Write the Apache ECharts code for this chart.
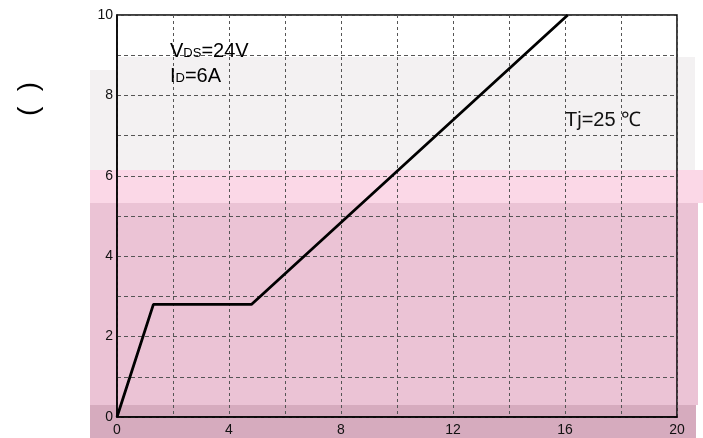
<!DOCTYPE html>
<html>
<head>
<meta charset="utf-8">
<script src="https://cdn.jsdelivr.net/npm/echarts@6/dist/echarts.min.js"></script>
<style>html,body{margin:0;padding:0;background:#fff;}#c{width:703px;height:438px;}</style>
</head>
<body>
<div id="c"></div>
<script>
// Gate charge curve: Qg (nC) vs VGS (V)
const qg = [0, 1.3, 4.8, 16.1];
const vgs = [0, 2.8, 2.8, 10];
const xTicks = [0, 4, 8, 12, 16, 20];
const yTicks = [0, 2, 4, 6, 8, 10];

const chart = echarts.init(document.getElementById('c'));
const FONT = '"Liberation Sans", Arial, sans-serif';
const rich = {
  b: { fontSize: 20, fontFamily: FONT, color: '#111' },
  s: { fontSize: 13, fontFamily: FONT, color: '#111', padding: [5, 0, 0, 0] }
};
chart.setOption({
  backgroundColor: 'transparent',
  animation: false,
  graphic: [
    { type: 'rect', z: -10, silent: true, shape: { x: 90, y: 70, width: 27, height: 100 }, style: { fill: '#f3f1f2' } },
    { type: 'rect', z: -10, silent: true, shape: { x: 117, y: 57, width: 578, height: 113 }, style: { fill: '#f3f1f2' } },
    { type: 'rect', z: -10, silent: true, shape: { x: 90, y: 170, width: 613, height: 33 }, style: { fill: '#fbd8e7' } },
    { type: 'rect', z: -10, silent: true, shape: { x: 90, y: 203, width: 608, height: 202 }, style: { fill: '#ebc3d5' } },
    { type: 'rect', z: -10, silent: true, shape: { x: 90, y: 405, width: 606, height: 33 }, style: { fill: '#d6abbe' } },
    { type: 'text', x: 29, y: 99, rotation: Math.PI / 2, style: { text: '(  )', font: '28px ' + FONT, fill: '#000', align: 'center', verticalAlign: 'middle' } },
    { type: 'text', left: 170, top: 41, z: 10, style: { text: '{b|V}{s|DS}{b|=24V}', rich: rich } },
    { type: 'text', left: 170, top: 66, z: 10, style: { text: '{b|I}{s|D}{b|=6A}', rich: rich } },
    { type: 'text', left: 565, top: 110, z: 10, style: { text: 'Tj=25 ℃', font: '20px ' + FONT, fill: '#111' } }
  ],
  grid: { left: 117, right: 26, top: 15, bottom: 21, show: true, borderColor: '#000', borderWidth: 1.5, backgroundColor: 'transparent' },
  xAxis: {
    type: 'value', min: 0, max: 20, interval: 4,
    axisLine: { show: true, lineStyle: { color: '#000', width: 1.5 } },
    axisTick: { show: false },
    axisLabel: { color: '#111', fontSize: 14, fontFamily: FONT, margin: 6, formatter: v => xTicks.includes(v) ? String(v) : '' },
    splitLine: { show: true, lineStyle: { color: '#555', type: [3, 3], width: 1 } },
    minorTick: { show: false, splitNumber: 2 },
    minorSplitLine: { show: true, lineStyle: { color: '#555', type: [3, 3], width: 1 } }
  },
  yAxis: {
    type: 'value', min: 0, max: 10, interval: 2,
    axisLine: { show: true, lineStyle: { color: '#000', width: 1.5 } },
    axisTick: { show: false },
    axisLabel: { color: '#111', fontSize: 14, fontFamily: FONT, margin: 4, formatter: v => yTicks.includes(v) ? String(v) : '' },
    splitLine: { show: true, lineStyle: { color: '#555', type: [4, 3], width: 1 } },
    minorTick: { show: false, splitNumber: 2 },
    minorSplitLine: { show: true, lineStyle: { color: '#555', type: [4, 3], width: 1 } }
  },
  series: [{
    type: 'line',
    data: qg.map((q, i) => [q, vgs[i]]),
    showSymbol: false,
    lineStyle: { color: '#000', width: 2.8 },
    z: 5
  }]
});
</script>
</body>
</html>
